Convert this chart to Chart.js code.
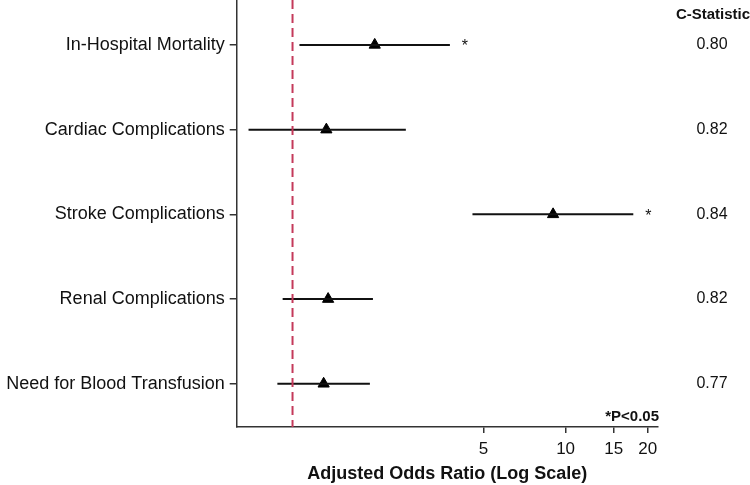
<!DOCTYPE html>
<html>
<head>
<meta charset="utf-8">
<title>Adjusted Odds Ratios</title>
<script src="https://cdn.jsdelivr.net/npm/chart.js@4"></script>
<style>
  body { margin: 0; background: #fff; }
  #wrap { width: 750px; height: 485px; }
</style>
</head>
<body>
<div id="wrap"><canvas id="forest" width="750" height="485"></canvas></div>
<script>
// outcomes, top to bottom
const outcomes = ['In-Hospital Mortality', 'Cardiac Complications', 'Stroke Complications', 'Renal Complications', 'Need for Blood Transfusion'];
const oddsRatio = [2.0, 1.33, 9.0, 1.35, 1.30];
const ciLower = [1.06, 0.69, 4.56, 0.92, 0.88];
const ciUpper = [3.77, 2.60, 17.7, 1.97, 1.92];
const significant = [true, false, true, false, false];
const cStatistic = ['0.80', '0.82', '0.84', '0.82', '0.77'];
const xTicks = [5, 10, 15, 20];

const rowIdx = outcomes.map((_, i) => i + 1);
const Y_MIN = 0.47, Y_MAX = 5.51;
const FONT = "'Liberation Sans', Arial, sans-serif";
Chart.defaults.font.family = FONT;
Chart.defaults.color = '#111';

// one small line dataset per confidence interval
const ciSets = outcomes.map((name, i) => ({
  label: name + ' CI',
  data: [{ x: ciLower[i], y: rowIdx[i] }, { x: ciUpper[i], y: rowIdx[i] }],
  showLine: true,
  borderColor: '#111',
  borderWidth: 2,
  pointRadius: 0
}));

// stars, p-value note and C-statistic column
const annotations = {
  id: 'annotations',
  afterDatasetsDraw(chart) {
    const { ctx, chartArea, scales: { x, y } } = chart;
    ctx.save();
    ctx.fillStyle = '#111';
    ctx.textBaseline = 'middle';

    ctx.font = '16px ' + FONT;
    ctx.textAlign = 'center';
    outcomes.forEach((_, i) => {
      const py = y.getPixelForValue(rowIdx[i]);
      if (significant[i]) {
        ctx.fillText('*', x.getPixelForValue(ciUpper[i]) + 15, py + 2);
      }
      ctx.fillText(cStatistic[i], 712, py);
    });

    ctx.font = 'bold 15px ' + FONT;
    ctx.fillText('C-Statistic', 713, 15);

    ctx.textAlign = 'right';
    ctx.fillText('*P<0.05', chartArea.right + 1, chartArea.bottom - 10);
    ctx.restore();
  }
};

new Chart(document.getElementById('forest'), {
  type: 'scatter',
  data: {
    datasets: [
      {
        label: 'Reference',
        data: [{ x: 1, y: Y_MIN }, { x: 1, y: Y_MAX }],
        showLine: true,
        borderColor: '#c4395a',
        borderWidth: 2,
        borderDash: [9, 5],
        pointRadius: 0
      },
      ...ciSets,
      {
        label: 'Odds ratio',
        data: oddsRatio.map((v, i) => ({ x: v, y: rowIdx[i] })),
        pointStyle: 'triangle',
        pointRadius: 6.5,
        backgroundColor: '#000',
        borderColor: '#000',
        borderWidth: 1
      }
    ]
  },
  options: {
    responsive: false,
    animation: false,
    layout: { autoPadding: false, padding: { top: 0, left: 0, right: 92, bottom: 0 } },
    plugins: { legend: { display: false }, tooltip: { enabled: false } },
    scales: {
      x: {
        type: 'logarithmic',
        bounds: 'data',
        min: 0.6245,
        max: 21.8,
        afterBuildTicks: scale => { scale.ticks = xTicks.map(v => ({ value: v })); },
        afterFit: scale => { scale.height = 58; },
        ticks: { callback: v => String(v), font: { size: 17 }, padding: 6, color: '#111', maxRotation: 0 },
        grid: { drawOnChartArea: false, tickLength: 6, color: '#333', lineWidth: 1.5 },
        border: { color: '#333', width: 1.5 },
        title: {
          display: true,
          text: 'Adjusted Odds Ratio (Log Scale)',
          font: { size: 18, weight: 'bold' },
          color: '#111',
          padding: { top: 0, bottom: 0 }
        }
      },
      y: {
        type: 'linear',
        bounds: 'data',
        reverse: true,
        min: Y_MIN,
        max: Y_MAX,
        afterBuildTicks: scale => { scale.ticks = rowIdx.map(v => ({ value: v })); },
        afterFit: scale => { scale.width = 236.7; scale.paddingTop = 0; scale.paddingBottom = 0; },
        ticks: { callback: v => outcomes[v - 1], font: { size: 18 }, padding: 5, color: '#111' },
        grid: { drawOnChartArea: false, tickLength: 7, color: '#333', lineWidth: 1.5 },
        border: { color: '#333', width: 1.5 }
      }
    }
  },
  plugins: [annotations]
});
</script>
</body>
</html>
